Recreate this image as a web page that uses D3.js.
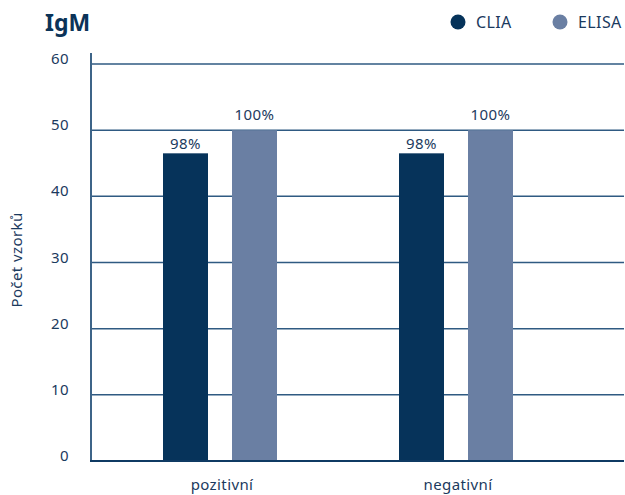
<!DOCTYPE html>
<html>
<head>
<meta charset="utf-8">
<script src="https://cdn.jsdelivr.net/npm/d3@7"></script>
<style>
  body { margin: 0; background: #fff; }
  text { font-family: "Noto Sans", "Open Sans", sans-serif; fill: #1b3a5e; letter-spacing: 0.4px; }
</style>
</head>
<body>
<div id="chart"></div>
<script>
const categories = ["pozitivní", "negativní"];
const series = ["CLIA", "ELISA"];
const cliaValues = [46.5, 46.5];
const elisaValues = [50, 50];
const cliaLabels = ["98%", "98%"];
const elisaLabels = ["100%", "100%"];
const yTicks = [0, 10, 20, 30, 40, 50, 60];
const colors = { CLIA: "#06335a", ELISA: "#6a7fa3" };

const width = 625, height = 495;
const margins = { top: 64, bottom: 34, left: 91, right: 1 };

const svg = d3.select("#chart").append("svg")
  .attr("width", width)
  .attr("height", height);

const data = categories.map((c, i) => ({
  cat: c,
  vals: [
    { key: "CLIA", value: cliaValues[i], label: cliaLabels[i] },
    { key: "ELISA", value: elisaValues[i], label: elisaLabels[i] }
  ]
}));

const yScale = d3.scaleLinear()
  .domain([0, 60])
  .range([height - margins.bottom, margins.top]);

const xScale = d3.scaleBand()
  .domain(categories)
  .range([102, 574])
  .padding(0);

const subScale = d3.scaleBand()
  .domain(series)
  .range([xScale.bandwidth() / 2 - 57, xScale.bandwidth() / 2 + 57])
  .paddingInner(24 / 69)
  .paddingOuter(0);

// gridlines
svg.append("g")
  .selectAll("line")
  .data(yTicks.filter(d => d > 0))
  .join("line")
  .attr("x1", margins.left)
  .attr("x2", width - margins.right)
  .attr("y1", d => yScale(d))
  .attr("y2", d => yScale(d))
  .attr("stroke", "#2f5a82")
  .attr("stroke-width", 1.5);

// y tick labels
svg.append("g")
  .selectAll("text")
  .data(yTicks)
  .join("text")
  .attr("x", 69)
  .attr("y", d => yScale(d))
  .attr("text-anchor", "end")
  .style("font-size", "15px")
  .text(d => d);

// bars
const groups = svg.append("g")
  .selectAll("g")
  .data(data)
  .join("g")
  .attr("transform", d => `translate(${xScale(d.cat)},0)`);

groups.selectAll("rect")
  .data(d => d.vals)
  .join("rect")
  .attr("x", d => subScale(d.key))
  .attr("width", subScale.bandwidth())
  .attr("y", d => yScale(d.value))
  .attr("height", d => yScale(0) - yScale(d.value))
  .attr("fill", d => colors[d.key]);

// value labels (lifted above the gridline when the bar top sits on one)
groups.selectAll("text.val")
  .data(d => d.vals)
  .join("text")
  .attr("class", "val")
  .attr("x", d => subScale(d.key) + subScale.bandwidth() / 2)
  .attr("y", d => yScale(d.value) - (d.value % 10 === 0 ? 10 : 4))
  .attr("text-anchor", "middle")
  .style("font-size", "15px")
  .text(d => d.label);

// category labels
svg.append("g")
  .selectAll("text")
  .data(categories)
  .join("text")
  .attr("x", d => xScale(d) + xScale.bandwidth() / 2 + 2)
  .attr("y", 490)
  .attr("text-anchor", "middle")
  .style("font-size", "15px")
  .text(d => d);

// axes lines
svg.append("line")
  .attr("x1", margins.left)
  .attr("x2", margins.left)
  .attr("y1", 53)
  .attr("y2", yScale(0))
  .attr("stroke", "#3d6488")
  .attr("stroke-width", 2);

svg.append("line")
  .attr("x1", margins.left - 1)
  .attr("x2", width - margins.right)
  .attr("y1", yScale(0))
  .attr("y2", yScale(0))
  .attr("stroke", "#0f3a63")
  .attr("stroke-width", 2);

// y axis title
svg.append("text")
  .attr("transform", "rotate(-90)")
  .attr("x", -260)
  .attr("y", 22)
  .attr("text-anchor", "middle")
  .style("font-size", "15px")
  .text("Počet vzorků");

// title
svg.append("text")
  .attr("x", 45)
  .attr("y", 31)
  .style("font-size", "23px")
  .style("font-weight", "bold")
  .style("letter-spacing", "0")
  .style("fill", "#0b3358")
  .text("IgM");

// legend
const legendX = [458, 560];
const legend = svg.append("g")
  .selectAll("g")
  .data(series)
  .join("g")
  .attr("transform", (d, i) => `translate(${legendX[i]},22)`);

legend.append("circle")
  .attr("r", 7.5)
  .attr("fill", d => colors[d]);

legend.append("text")
  .attr("x", 18)
  .attr("y", 5.5)
  .style("font-size", "16px")
  .text(d => d);
</script>
</body>
</html>
